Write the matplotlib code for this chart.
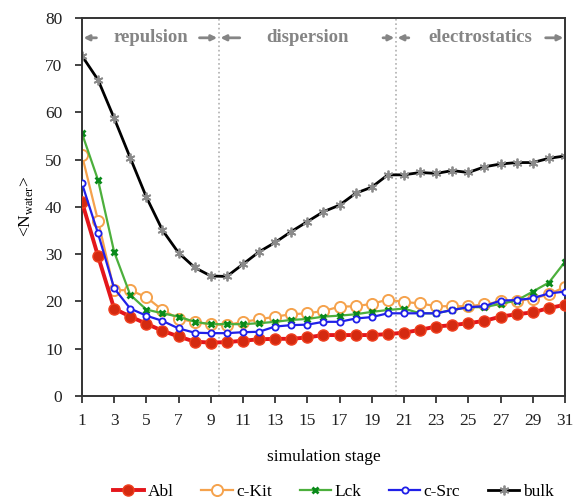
import matplotlib
matplotlib.use('Agg')
import matplotlib.pyplot as plt
import numpy as np

plt.rcParams['font.family'] = ['Liberation Serif', 'DejaVu Serif']
plt.rcParams['mathtext.fontset'] = 'custom'
plt.rcParams['mathtext.rm'] = 'Liberation Serif'

# stages 1..31
stage = np.arange(1, 32)

abl = [41.1, 29.6, 18.5, 16.8, 15.3, 13.8, 12.6, 11.5, 11.3, 11.4,
       11.7, 12.0, 12.1, 12.1, 12.4, 12.9, 12.9, 12.9, 12.9, 13.1,
       13.4, 14.0, 14.7, 15.0, 15.4, 15.9, 16.8, 17.3, 17.7, 18.6, 19.3]
ckit = [51.0, 37.1, 22.4, 22.4, 20.9, 18.2, 16.4, 15.6, 15.2, 15.0,
        15.7, 16.2, 16.8, 17.3, 17.5, 18.0, 18.9, 19.0, 19.5, 20.4,
        19.9, 19.6, 19.0, 19.0, 19.0, 19.4, 20.0, 20.1, 20.6, 21.5, 23.1]
lck = [55.6, 45.7, 30.5, 21.4, 18.3, 17.5, 16.8, 15.7, 15.2, 15.2,
       15.2, 15.4, 15.7, 16.1, 16.3, 16.8, 17.0, 17.3, 17.8, 18.2,
       18.5, 17.5, 17.5, 18.2, 18.8, 18.8, 19.5, 20.2, 22.1, 24.0, 28.4]
csrc = [45.0, 34.4, 22.8, 18.5, 17.0, 15.9, 14.3, 13.4, 13.3, 13.3,
        13.5, 13.6, 14.7, 15.0, 15.1, 15.7, 15.7, 16.4, 16.7, 17.5,
        17.5, 17.5, 17.5, 18.2, 18.8, 19.0, 20.2, 20.3, 20.7, 21.7, 22.1]
bulk = [72.0, 66.9, 58.8, 50.4, 42.1, 35.1, 30.3, 27.2, 25.4, 25.3,
        27.9, 30.5, 32.5, 34.8, 36.9, 39.0, 40.4, 42.9, 44.2, 46.8,
        46.8, 47.3, 47.1, 47.7, 47.3, 48.5, 49.1, 49.4, 49.4, 50.3, 50.8]

phases = ['repulsion', 'dispersion', 'electrostatics']
phase_bounds = [1, 9.5, 20.5, 31]

fig = plt.figure(figsize=(5.73, 4.99), dpi=100)
ax = fig.add_axes([0.143, 0.2064, 0.843, 0.7576])

for b in phase_bounds[1:-1]:
    ax.axvline(b, color='#b0b0b0', linestyle=':', linewidth=1.2, zorder=0)

ax.plot(stage, abl, color='#e4161b', linewidth=2.8, marker='o', markersize=8,
        markerfacecolor='#d42a10', markeredgecolor='#f04020', label='Abl', zorder=3)
ax.plot(stage, ckit, color='#f5a24c', linewidth=1.6, marker='o', markersize=8,
        markerfacecolor='white', markeredgecolor='#f5a24c', markeredgewidth=1.4,
        label='c-Kit', zorder=2)
ax.plot(stage, lck, color='#4caf3c', linewidth=1.6, marker='x', markersize=5,
        markeredgecolor='#0a8a1a', markeredgewidth=2, label='Lck', zorder=2)
ax.plot(stage, csrc, color='#2020e8', linewidth=1.6, marker='o', markersize=4.5,
        markerfacecolor='white', markeredgecolor='#2020e8', markeredgewidth=1.3,
        label='c-Src', zorder=4)
ax.plot(stage, bulk, color='black', linewidth=2, marker=(6, 2, 0), markersize=7,
        markeredgecolor='#8a8a8a', markeredgewidth=1.3, label='bulk', zorder=2)

# phase annotations
gray = '#858585'
ytxt = 75.8
for i, name in enumerate(phases):
    lo, hi = phase_bounds[i], phase_bounds[i + 1]
    mid = (lo + hi) / 2
    ax.text(mid, ytxt, name, ha='center', va='center', color=gray,
            fontsize=13.5, fontweight='bold')
for lo, hi, a, b in [(1, 9.5, 1.9, 8.3), (9.5, 20.5, 10.8, 19.7), (20.5, 31, 21.3, 29.8)]:
    ax.annotate('', xy=(lo + 0.1, ytxt), xytext=(a, ytxt),
                arrowprops=dict(arrowstyle='-|>', color=gray, lw=2, mutation_scale=8,
                                shrinkA=0, shrinkB=0))
    ax.annotate('', xy=(hi - 0.1, ytxt), xytext=(b, ytxt),
                arrowprops=dict(arrowstyle='-|>', color=gray, lw=2, mutation_scale=8,
                                shrinkA=0, shrinkB=0))

ax.set_xlim(1, 31)
ax.set_ylim(0, 80)
ax.set_xticks(np.arange(1, 32, 2))
ax.set_yticks(np.arange(0, 81, 10))
ax.tick_params(axis='both', direction='out', length=5, width=1.2, labelsize=12.5,
               colors='#222222')
ax.tick_params(axis='x', pad=7.5)
ax.tick_params(axis='y', pad=9)
for s in ax.spines.values():
    s.set_linewidth(1.4)
    s.set_color('#333333')

ax.set_xlabel('simulation stage', fontsize=12.5, labelpad=14)
ax.set_ylabel(r'<N$_{\mathregular{water}}$>', fontsize=12.5, labelpad=7)

ax.legend(loc='upper center', bbox_to_anchor=(0.52, -0.19), ncol=5, frameon=False,
          fontsize=12.5, handlelength=1.8, handletextpad=0.2, columnspacing=1.6)

plt.savefig('out.png', dpi=100)
plt.close()
